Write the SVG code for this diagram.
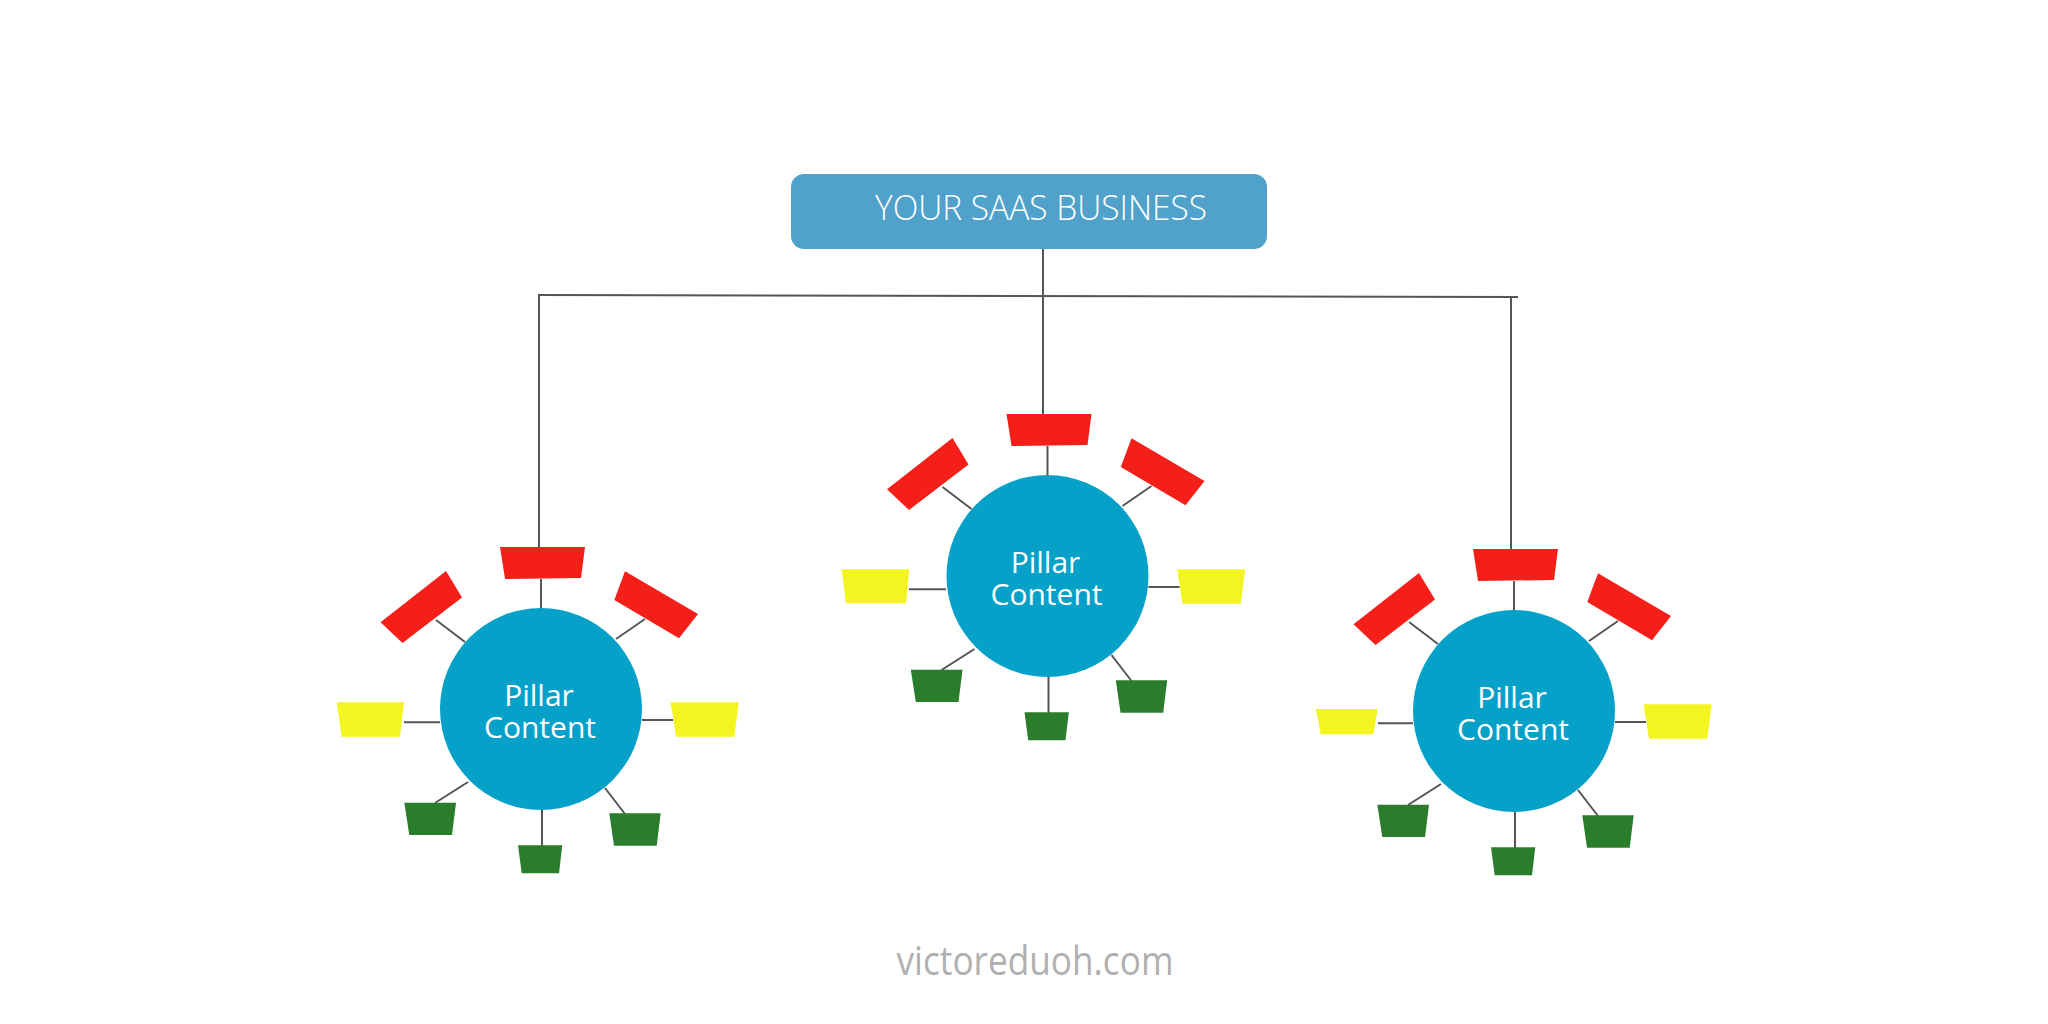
<svg xmlns="http://www.w3.org/2000/svg" xmlns:xlink="http://www.w3.org/1999/xlink" width="2048" height="1024" viewBox="0 0 2048 1024">
<style>
.ln{stroke:#555;stroke-width:2;fill:none}
.red{fill:#f51f1a}
.yel{fill:#f4f420}
.grn{fill:#2a7d2b}
.hub{fill:#06a1c8}
.hubtxt{font-family:"Open Sans","Noto Sans",sans-serif;font-size:30px;fill:#fff;text-anchor:middle}
</style>
<defs>
<g id="spokes">
<line class="ln" x1="0" y1="-130" x2="0" y2="-100"/>
<line class="ln" x1="-105" y1="-89" x2="-76" y2="-67"/>
<line class="ln" x1="104" y1="-90" x2="75" y2="-70"/>
<line class="ln" x1="101" y1="11" x2="132" y2="11"/>
<line class="ln" x1="-106" y1="94" x2="-73" y2="73"/>
<line class="ln" x1="1" y1="100" x2="1" y2="137"/>
<line class="ln" x1="64" y1="79" x2="84" y2="105"/>
</g>
<g id="shapes">
<polygon class="red" points="-41,-162 44,-162 40,-131 -36,-130"/>
<polygon class="red" points="-160.5,-86.7 -95,-138 -79,-111.5 -138.5,-66"/>
<polygon class="red" points="84,-137.7 157,-95 138,-70.7 73.3,-109"/>
<polygon class="yel" points="129.7,-6.7 197.7,-6.7 193.3,27.7 135,27.7"/>
<polygon class="grn" points="-136.7,93.7 -85,93.7 -89,126 -131.7,126"/>
<polygon class="grn" points="-23,136.3 21.3,136.3 18,164.3 -19.3,164.3"/>
<polygon class="grn" points="68.3,104.3 119.7,104.3 115.7,136.7 73,136.7"/>
<circle class="hub" cx="0" cy="0" r="101"/>
<text class="hubtxt" x="-2" y="-3">Pillar</text>
<text class="hubtxt" x="-1" y="29">Content</text>
</g>
</defs>
<rect width="2048" height="1024" fill="#fff"/>
<g id="connectors">
<line class="ln" x1="1043" y1="249" x2="1043" y2="414"/>
<line class="ln" x1="538" y1="295" x2="1518" y2="297"/>
<line class="ln" x1="539" y1="295" x2="539" y2="548"/>
<line class="ln" x1="1511" y1="297" x2="1511" y2="549"/>
<use xlink:href="#spokes" transform="translate(541,709)"/>
<use xlink:href="#spokes" transform="translate(1047.5,576)"/>
<use xlink:href="#spokes" transform="translate(1514,711)"/>
<line class="ln" x1="404" y1="722.3" x2="440" y2="722.3"/>
<line class="ln" x1="909" y1="589.3" x2="946" y2="589.3"/>
<line class="ln" x1="1378" y1="723.3" x2="1413" y2="723.3"/>
</g>
<g id="root">
<rect x="791" y="174" width="476" height="75" rx="13" fill="#51a2ca"/>
<text x="1041" y="220" font-family="'Open Sans','Noto Sans',sans-serif" font-weight="300" font-size="35" fill="#fff" text-anchor="middle" textLength="332" lengthAdjust="spacingAndGlyphs">YOUR SAAS BUSINESS</text>
</g>
<g id="pillar-left">
<use xlink:href="#shapes" transform="translate(541,709)"/>
<polygon class="yel" points="336.7,702.3 404,702.3 400,736.7 341.7,736.7"/>
</g>
<g id="pillar-center">
<use xlink:href="#shapes" transform="translate(1047.5,576)"/>
<polygon class="yel" points="841.7,569.3 909.3,569.3 906,603.3 846,603.3"/>
</g>
<g id="pillar-right">
<use xlink:href="#shapes" transform="translate(1514,711)"/>
<polygon class="yel" points="1316,709 1377.7,709 1373.3,734.3 1320.7,734.3"/>
</g>
<text id="footer" x="1035" y="975" font-family="'Open Sans','Noto Sans',sans-serif" font-size="40" fill="#b0b0b0" text-anchor="middle" textLength="277" lengthAdjust="spacingAndGlyphs">victoreduoh.com</text>
</svg>
